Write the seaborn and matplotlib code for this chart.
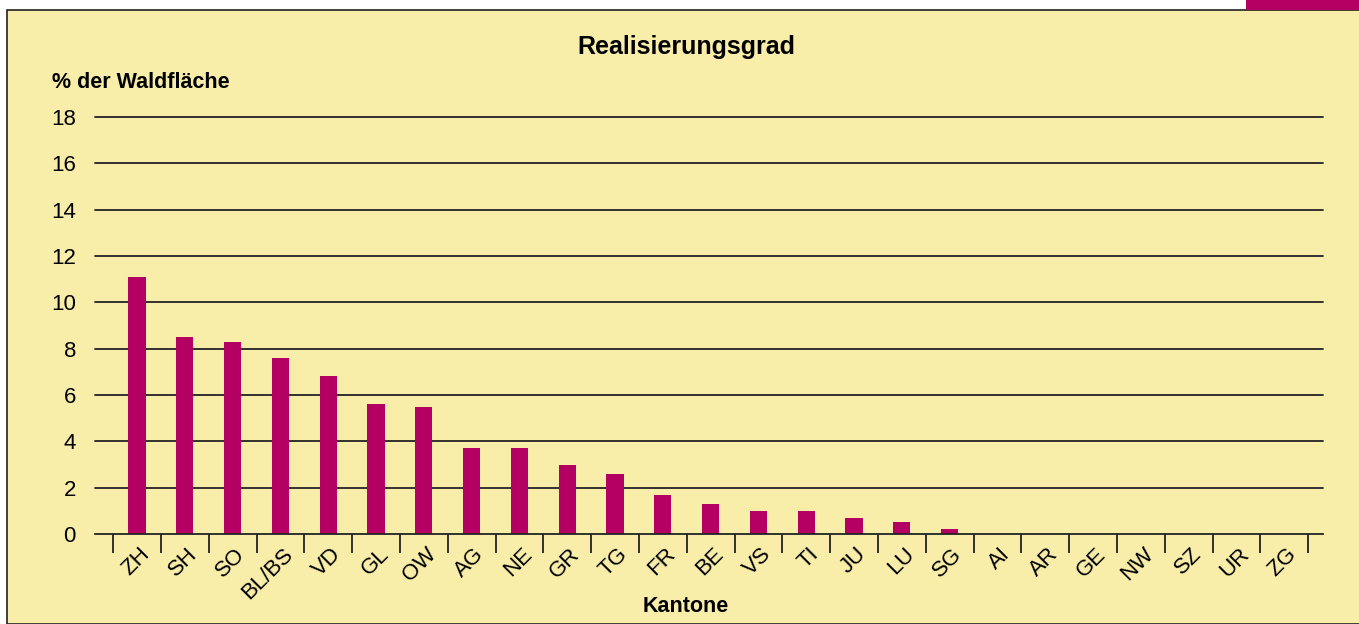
import numpy as np
import pandas as pd
import matplotlib
matplotlib.use("Agg")
import matplotlib.pyplot as plt
import matplotlib.transforms as mtransforms
from matplotlib.patches import Rectangle
import seaborn as sns

#----------------------------------
# Data
#----------------------------------
kantone = ["ZH", "SH", "SO", "BL/BS", "VD", "GL", "OW", "AG", "NE", "GR",
           "TG", "FR", "BE", "VS", "TI", "JU", "LU", "SG", "AI", "AR",
           "GE", "NW", "SZ", "UR", "ZG"]
realisierung = [11.1, 8.5, 8.3, 7.6, 6.8, 5.6, 5.5, 3.7, 3.7, 3.0,
                2.6, 1.7, 1.3, 1.0, 1.0, 0.7, 0.5, 0.2, 0, 0,
                0, 0, 0, 0, 0]
y_ticks = [0, 2, 4, 6, 8, 10, 12, 14, 16, 18]

df = pd.DataFrame({"Kanton": kantone, "Wert": realisierung})

#----------------------------------
# Style
#----------------------------------
sns.set_style("white")
plt.rcParams['font.family'] = ['Liberation Sans', 'DejaVu Sans']
plt.rcParams['text.color'] = "black"
plt.rcParams['xtick.color'] = "black"
plt.rcParams['ytick.color'] = "black"

yellow = "#F8EDA9"
magenta = "#B40062"
line_col = "#222222"

fig = plt.figure(figsize=(13.59, 6.24), dpi=100, facecolor="white")

# yellow panel with black frame and the magenta tab at top right
fig.patches.append(Rectangle((7 / 1359, 0), 1.0, 1 - 10 / 624,
                             transform=fig.transFigure, facecolor=yellow,
                             edgecolor=line_col, linewidth=1.2, zorder=0))
fig.patches.append(Rectangle((1246 / 1359, 1 - 10 / 624), 1.0, 10 / 624,
                             transform=fig.transFigure, facecolor=magenta,
                             edgecolor="none", zorder=1))

ax = fig.add_axes([95 / 1359, 1 - 534 / 624, (1323 - 95) / 1359, (534 - 117) / 624])
ax.set_zorder(5)
ax.set_facecolor("none")

sns.barplot(data=df, x="Kanton", y="Wert", color=magenta, width=0.36,
            saturation=1, edgecolor="none", linewidth=0, ax=ax, zorder=3)

ax.set_ylim(0, 18)
ax.set_xlim(-0.88, 24.81)
ax.set_yticks(y_ticks)
for v in y_ticks[1:]:
    ax.axhline(v, color=line_col, linewidth=1.3, zorder=1, clip_on=False)

for s in ["top", "right", "left"]:
    ax.spines[s].set_visible(False)
ax.spines["bottom"].set_color(line_col)
ax.spines["bottom"].set_linewidth(1.3)
ax.spines["bottom"].set_zorder(4)

# ticks between categories, labels on the categories
pos = np.arange(len(kantone))
ax.set_xticks(np.arange(len(kantone) + 1) - 0.5)
ax.set_xticklabels([])
ax.set_xticks(pos, minor=True)
ax.set_xticklabels(kantone, minor=True, rotation=45, ha="right",
                   rotation_mode="anchor", fontsize=16)
ax.tick_params(axis="x", which="both", bottom=True)
ax.tick_params(axis="x", which="major", length=13.7, width=1.3, color=line_col,
               direction="out")
ax.tick_params(axis="x", which="minor", length=0, pad=7)
offset = mtransforms.ScaledTranslation(2 / 100, 0, fig.dpi_scale_trans)
for lab in ax.get_xticklabels(minor=True):
    lab.set_transform(lab.get_transform() + offset)

ax.tick_params(axis="y", length=0, pad=13.7, labelsize=16)
ax.set_xlabel("")
ax.set_ylabel("")

fig.text(686 / 1359, 1 - 47 / 624, "Realisierungsgrad", ha="center", va="center",
         fontsize=18, fontweight="bold")
fig.text(52 / 1359, 1 - 82 / 624, "% der Waldfläche", ha="left", va="center",
         fontsize=15.5, fontweight="bold")
fig.text(686 / 1359, 1 - 606 / 624, "Kantone", ha="center", va="center",
         fontsize=15.5, fontweight="bold")

fig.savefig("out.png", dpi=100, facecolor=fig.get_facecolor())
